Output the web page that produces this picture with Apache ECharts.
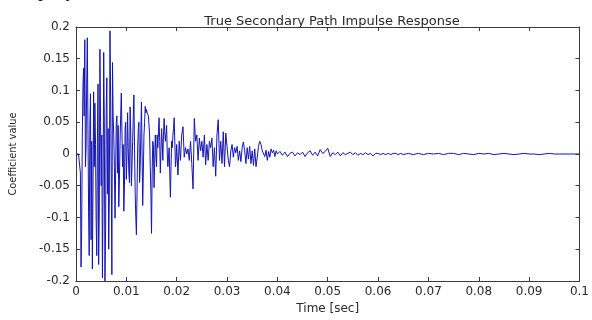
<!DOCTYPE html>
<html>
<head>
<meta charset="utf-8">
<script src="https://cdn.jsdelivr.net/npm/echarts@6/dist/echarts.min.js"></script>
<style>
html,body{margin:0;padding:0;background:#fff;}
#chart{width:592px;height:320px;}
</style>
</head>
<body>
<div id="chart"></div>
<script>
// ---- data ----
const chartTitle = 'True Secondary Path Impulse Response';
const xName = 'Time [sec]';
const yName = 'Coefficient value';
const xTicks = [0, 0.01, 0.02, 0.03, 0.04, 0.05, 0.06, 0.07, 0.08, 0.09, 0.1];
const yTicks = [-0.2, -0.15, -0.1, -0.05, 0, 0.05, 0.1, 0.15, 0.2];

// dense part: t = 0 .. 0.02 s, one value every 0.000125 s
const denseStart = 0, denseStep = 0.000125;
const denseValues = [
  0, 0, 0, 0, 0, 0, 0, -0.03,
  -0.178, -0.12, 0.025, 0.105, 0.135, 0.06, 0.18, -0.02, 0.01, 0.11, 0.183, 0.04,
  -0.09, -0.16, 0.045, 0.095, -0.135, 0.02, -0.181, -0.06, 0.098, -0.02,
  0.08, 0.015, -0.105, -0.16, 0.02, 0.11, -0.174, -0.09, 0.165, 0.05,
  -0.05, 0.03, -0.195, -0.07, 0.16, 0.05, -0.2, -0.12, 0.07, 0.12,
  -0.063, 0.04, -0.15, -0.06, 0.194, 0.09, -0.03, -0.19, 0.144, 0.06,
  0.03, -0.02, -0.101, -0.03, 0.05, 0.06, -0.03, 0.045, -0.083, -0.04,
  0.02, 0.06, 0.096, 0.035, -0.02, 0.015, -0.09, -0.05, 0.04, 0.05,
  -0.04, 0.0, 0.065, 0.01, -0.03, -0.045, 0.074, 0.03, -0.05, -0.02,
  0.02, 0.06, 0.093, 0.01, -0.06, -0.1, -0.127, -0.06, 0.01, 0.04,
  0.05, -0.045, -0.02, 0.03, 0.082, 0.0, -0.081, -0.03, 0.03, 0.05,
  0.075, 0.065, 0.07, 0.065, 0.062, 0.06, 0.058, 0.03, -0.02, -0.06,
  -0.125, -0.03, 0.02, 0.015, -0.053, -0.015, 0.03, 0.0, -0.02, 0.03,
  0.01, 0.035, 0.057, 0.02, -0.03, 0.005, 0.04, 0.02, -0.01, 0.03,
  0.056, 0.035, 0.02, 0.03, 0.045, 0.0, -0.02, -0.005, 0.01, -0.03,
  -0.068, -0.02, 0.02, 0.01, 0.03, 0.04, 0.057, 0.02, -0.02, -0.01,
  0.015
];

// decaying part: t = 0.02025 .. 0.04 s, one value every 0.00025 s
const decayStart = 0.02025, decayStep = 0.00025;
const decayValues = [
  -0.033, 0.02, -0.01, 0.03, 0.043, -0.005, 0.01, 0.0, 0.008,
  -0.01, 0.02, -0.015, -0.055, 0.056, 0.02, 0.03, -0.01, 0.025, 0.005,
  0.02, -0.005, 0.03, -0.017, 0.015, -0.01, 0.02, 0.01, 0.025, -0.02,
  0.01, -0.035, 0.03, 0.054, -0.01, 0.02, -0.015, 0.035, -0.02, 0.033,
  0.03, -0.01, -0.02, 0.005, 0.015, -0.005, 0.01, 0.002, 0.012, -0.01,
  0.005, -0.012, 0.01, 0.019, 0.005, -0.015, 0.01, -0.008, 0.012, -0.015,
  0.005, -0.018, 0.008, -0.02, -0.005, 0.012, 0.02, 0.015, 0.005, 0.008,
  -0.004, 0.006, -0.01, 0.004, -0.005, 0.008, 0.002, 0.006, -0.004, 0.005,
  0.0
];

// middle part: t = 0.0405 .. 0.065 s, one value every 0.0005 s
const midStart = 0.0405, midStep = 0.0005;
const midValues = [
  0.004, -0.002, 0.003, -0.004, 0.001, 0.003, -0.003, 0.002, -0.001, 0.003,
  -0.004, 0.002, 0.005, -0.002, 0.003, -0.003, 0.007, 0.001, 0.004, 0.009,
  -0.004, 0.002, -0.001, 0.003, -0.003, 0.002, -0.001, 0.001, 0.003, -0.001,
  0.002, -0.002, 0.001, -0.001, 0.002, -0.001, 0.001, -0.003, 0.001, 0.001,
  -0.001, 0.001, -0.001, 0.001, -0.001, 0.001, 0.001, -0.001, 0.001, -0.001
];

// tail: t = 0.066 .. 0.1 s, one value every 0.001 s
const tailStart = 0.066, tailStep = 0.001;
const tailValues = [
  0.001, -0.001, 0.001, -0.001, 0.001, 0, 0.001, -0.001, 0.001, 0.001,
  -0.001, 0.001, 0, -0.001, 0.001, 0, 0.001, -0.001, 0, 0.001,
  0, -0.001, 0, 0.001, 0, 0, -0.001, 0, 0.001, 0,
  0, 0, 0, 0, 0
];

// ---- build series data ----
function pairs(start, step, vals) {
  return vals.map((v, i) => [+(start + i * step).toFixed(6), v]);
}
const seriesData = []
  .concat(pairs(denseStart, denseStep, denseValues))
  .concat(pairs(decayStart, decayStep, decayValues))
  .concat(pairs(midStart, midStep, midValues))
  .concat(pairs(tailStart, tailStep, tailValues));

const fmt = v => String(+(+v).toFixed(2));
const tickFont = 'DejaVu Sans';
const textColor = '#2a2a2a';
const axisColor = '#3a3a3a';

const chart = echarts.init(document.getElementById('chart'), null, {renderer: 'canvas'});
const xBase = {
  type: 'value', min: xTicks[0], max: xTicks[xTicks.length - 1],
  interval: xTicks[1] - xTicks[0],
  axisLine: {show: true, onZero: false, lineStyle: {color: axisColor, width: 1}},
  axisTick: {show: true, inside: true, length: 4, lineStyle: {color: axisColor}},
  splitLine: {show: false}
};
const yBase = {
  type: 'value', min: yTicks[0], max: yTicks[yTicks.length - 1],
  interval: yTicks[1] - yTicks[0],
  axisLine: {show: true, onZero: false, lineStyle: {color: axisColor, width: 1}},
  axisTick: {show: true, inside: true, length: 4, lineStyle: {color: axisColor}},
  splitLine: {show: false}
};

chart.setOption({
  animation: false,
  backgroundColor: '#ffffff',
  title: {
    text: chartTitle,
    left: 327, top: 10, textAlign: 'center',
    textStyle: {fontFamily: tickFont, fontSize: 13, fontWeight: 'normal', color: textColor}
  },
  grid: {left: 72, right: 10, top: 27, bottom: 30, containLabel: false},
  xAxis: [
    Object.assign({}, xBase, {
      position: 'bottom',
      name: xName, nameLocation: 'middle', nameGap: 22,
      nameTextStyle: {fontFamily: tickFont, fontSize: 12, color: textColor},
      axisLabel: {show: true, margin: 5, fontFamily: tickFont, fontSize: 12, color: textColor, formatter: fmt}
    }),
    Object.assign({}, xBase, {position: 'top', axisLabel: {show: false}})
  ],
  yAxis: [
    Object.assign({}, yBase, {
      position: 'left',
      name: yName, nameLocation: 'middle', nameGap: 57, nameRotate: 90,
      nameTextStyle: {fontFamily: 'Liberation Sans Narrow, DejaVu Sans Condensed, Liberation Sans', fontSize: 11, color: textColor},
      axisLabel: {show: true, margin: 6, fontFamily: tickFont, fontSize: 12, color: textColor, formatter: fmt}
    }),
    Object.assign({}, yBase, {position: 'right', axisLabel: {show: false}})
  ],
  graphic: [{
    type: 'text', left: 38, top: -19,
    style: {text: 'plify', font: '20px "Liberation Serif", serif', fill: '#111'}
  }],
  series: [{
    type: 'line',
    xAxisIndex: 0, yAxisIndex: 0,
    data: seriesData,
    showSymbol: false,
    symbol: 'none',
    lineStyle: {color: '#1414b4', width: 1},
    clip: true
  }]
});
</script>
</body>
</html>
